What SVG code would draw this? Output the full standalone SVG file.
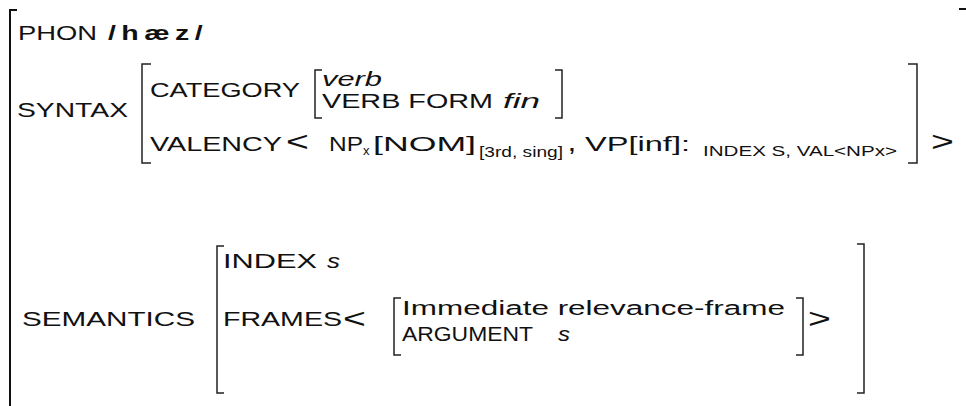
<svg xmlns="http://www.w3.org/2000/svg" width="966" height="406" viewBox="0 0 966 406">
<style>
text{font-family:"Liberation Sans",Arial,sans-serif;fill:#111;font-size:21px}
.it{font-style:italic}
.mid{font-size:20px}
.sub{font-size:14px}
.subx{font-size:13px}
.big{font-size:28px}
.br{fill:none;stroke:#222;stroke-width:1.5}
.outer{fill:none;stroke:#111;stroke-width:2}
</style>
<rect width="966" height="406" fill="#fff"/>
<g id="brackets">
<path class="outer" d="M17,10 H10 V406"/>
<path class="outer" d="M959,9 H966"/>
<path class="br" d="M151,64 H142 V163 H151"/>
<path class="br" d="M908,64 H917 V163 H908"/>
<path class="br" d="M322,70 H315 V118 H322"/>
<path class="br" d="M555,70 H562 V118 H555"/>
<path class="br" d="M224,246 H217 V393 H224"/>
<path class="br" d="M857,244 H864 V393 H857"/>
<path class="br" d="M401,298 H394 V355 H401"/>
<path class="br" d="M796,298 H803 V355 H796"/>
</g>
<g id="phon">
<text x="18" y="40" textLength="79" lengthAdjust="spacingAndGlyphs">PHON</text>
<text x="108" y="40" font-size="24" font-weight="bold" letter-spacing="4" textLength="100" lengthAdjust="spacingAndGlyphs">/hæz/</text>
</g>
<g id="syntax">
<text x="17" y="117" textLength="111" lengthAdjust="spacingAndGlyphs">SYNTAX</text>
</g>
<g id="category">
<text x="150" y="97" textLength="150" lengthAdjust="spacingAndGlyphs">CATEGORY</text>
<text class="it mid" x="322" y="86" textLength="60" lengthAdjust="spacingAndGlyphs">verb</text>
<text class="mid" x="322" y="108" textLength="171" lengthAdjust="spacingAndGlyphs">VERB FORM</text>
<text class="it mid" x="503" y="108" textLength="37" lengthAdjust="spacingAndGlyphs">fin</text>
</g>
<g id="valency">
<text x="150" y="151" textLength="132" lengthAdjust="spacingAndGlyphs">VALENCY</text>
<text class="big" transform="translate(286,151) scale(1.4,1)">&lt;</text>
<text x="329" y="151" textLength="34" lengthAdjust="spacingAndGlyphs">NP</text>
<text class="subx" x="363" y="155">x</text>
<text x="373" y="151" textLength="103" lengthAdjust="spacingAndGlyphs">[NOM]</text>
<text class="sub" x="479" y="157" textLength="84" lengthAdjust="spacingAndGlyphs">[3rd, sing]</text>
<text x="569" y="151" font-weight="bold">,</text>
<text x="585" y="151" textLength="105" lengthAdjust="spacingAndGlyphs">VP[inf]:</text>
<text class="sub" x="703" y="156" textLength="194" lengthAdjust="spacingAndGlyphs">INDEX S, VAL&lt;NPx&gt;</text>
<text class="big" transform="translate(931,151) scale(1.4,1)">&gt;</text>
</g>
<g id="semantics">
<text x="22" y="326" textLength="173" lengthAdjust="spacingAndGlyphs">SEMANTICS</text>
</g>
<g id="index">
<text x="223" y="268" textLength="94" lengthAdjust="spacingAndGlyphs">INDEX</text>
<text class="it" x="327" y="268" textLength="13" lengthAdjust="spacingAndGlyphs">s</text>
</g>
<g id="frames">
<text x="223" y="326" textLength="119" lengthAdjust="spacingAndGlyphs">FRAMES</text>
<text class="big" transform="translate(343,328) scale(1.4,1)">&lt;</text>
<text class="mid" x="402" y="315" textLength="383" lengthAdjust="spacingAndGlyphs">Immediate relevance-frame</text>
<text class="mid" x="402" y="341" textLength="131" lengthAdjust="spacingAndGlyphs">ARGUMENT</text>
<text class="it mid" x="558" y="341" textLength="12" lengthAdjust="spacingAndGlyphs">s</text>
<text class="big" transform="translate(808,328) scale(1.4,1)">&gt;</text>
</g>
</svg>
